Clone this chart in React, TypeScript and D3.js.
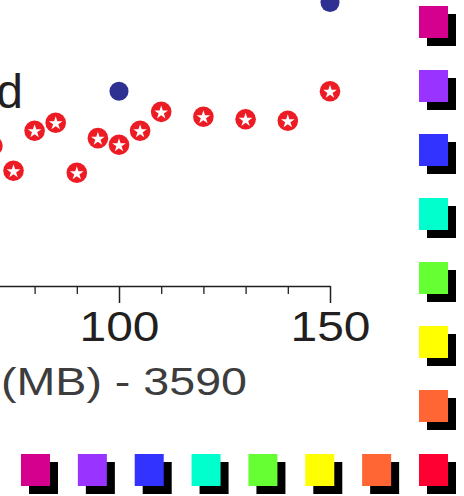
import { useEffect, useRef } from "react";
import * as d3 from "d3";

// predicted values (red star markers)
const predX = [70, 75, 80, 85, 90, 95, 100, 105, 110, 120, 130, 140, 150];
const predY = [49.0, 40.3, 54.3, 57.1, 39.6, 51.7, 49.4, 54.3, 60.9, 59.2, 58.3, 57.8, 68.1];
// measured values (navy dots)
const measX = [100, 150];
const measY = [68.1, 99.1];

const majorTicks = [100, 150];
const minorTicks = [60, 70, 80, 90, 110, 120, 130, 140];
const axisLabel = "(MB) - 3590";
const seriesLabel = "d";

const swatches = ["#D6008F", "#9933FF", "#3333FF", "#00FFCC", "#66FF33", "#FFFF00", "#FF6633", "#FF0033"];

const FONT = "'Liberation Sans', Arial, sans-serif";

const App = () => {
  const svgRef = useRef<SVGSVGElement>(null);

  useEffect(() => {
    const w = 464;
    const h = 496;
    const svg = d3.select(svgRef.current).attr("width", w).attr("height", h);
    svg.selectAll("*").remove();

    // scales
    const xScale = d3.scaleLinear().domain([40, 150]).range([-134.2, 330]);
    const yScale = d3.scaleLinear().domain([0, 100]).range([286, 0]);

    // minor ticks
    svg.append("g")
      .attr("transform", "translate(0,286)")
      .call(d3.axisBottom(xScale).tickValues(minorTicks).tickSize(8).tickSizeOuter(0).tickFormat(() => ""))
      .call((g) => g.select(".domain").remove())
      .call((g) => g.selectAll("line").attr("stroke", "#231F20").attr("stroke-width", 1.3));

    // major ticks + axis line
    const xAxis = svg.append("g")
      .attr("transform", "translate(0,286)")
      .call(d3.axisBottom(xScale).tickValues(majorTicks).tickSize(17).tickSizeOuter(0).tickPadding(7.7));
    xAxis.select(".domain").attr("stroke", "#231F20").attr("stroke-width", 1.7);
    xAxis.selectAll("line").attr("stroke", "#231F20").attr("stroke-width", 1.5);
    xAxis.selectAll("text")
      .attr("fill", "#231F20")
      .style("font-family", FONT)
      .style("font-size", "43px")
      .attr("textLength", 80)
      .attr("lengthAdjust", "spacingAndGlyphs");

    // axis title
    svg.append("text")
      .attr("x", 1)
      .attr("y", 394.5)
      .attr("fill", "#3d3d3d")
      .style("font-family", FONT)
      .style("font-size", "38px")
      .attr("textLength", 246)
      .attr("lengthAdjust", "spacingAndGlyphs")
      .text(axisLabel);

    // series label fragment
    svg.append("text")
      .attr("x", 23)
      .attr("y", 107.7)
      .attr("text-anchor", "end")
      .attr("fill", "#231F20")
      .style("font-family", FONT)
      .style("font-size", "48px")
      .text(seriesLabel);

    // measured points
    svg.selectAll(".meas")
      .data(measX.map((x, i) => [x, measY[i]]))
      .join("circle")
      .attr("class", "meas")
      .attr("cx", (d) => xScale(d[0]))
      .attr("cy", (d) => yScale(d[1]))
      .attr("r", 9.5)
      .attr("fill", "#2E3192");

    // predicted points
    const star = d3.symbol().type(d3.symbolStar).size(58);
    const pts = svg.selectAll(".pred")
      .data(predX.map((x, i) => [x, predY[i]]))
      .join("g")
      .attr("class", "pred")
      .attr("transform", (d) => `translate(${xScale(d[0])},${yScale(d[1])})`);
    pts.append("circle").attr("r", 10.3).attr("fill", "#ED1C24");
    pts.append("path").attr("d", star()).attr("fill", "#fff").attr("transform", "translate(0,0.8)");

    // colour swatches: right column and bottom row
    const colY = d3.scaleLinear().domain([0, swatches.length - 1]).range([6, 454]);
    const rowX = d3.scaleLinear().domain([0, swatches.length - 1]).range([21, 419]);
    const sw = 29;
    const sh = 32;
    const off = 8;

    const drawSwatch = (cls: string, xs: (i: number) => number, ys: (i: number) => number) => {
      const g = svg.selectAll("." + cls)
        .data(swatches)
        .join("g")
        .attr("class", cls)
        .attr("transform", (_d, i) => `translate(${xs(i)},${ys(i)})`);
      g.append("rect").attr("x", off).attr("y", off).attr("width", sw).attr("height", sh).attr("fill", "#000");
      g.append("rect").attr("width", sw).attr("height", sh).attr("fill", (d) => d);
    };
    drawSwatch("sw-col", () => 419, (i) => colY(i));
    drawSwatch("sw-row", (i) => rowX(i), () => 454);
  }, []);

  return (
    <div>
      <svg ref={svgRef} style={{ position: "absolute", left: 0, top: 0, background: "#fff" }}></svg>
    </div>
  );
};

export default App;
